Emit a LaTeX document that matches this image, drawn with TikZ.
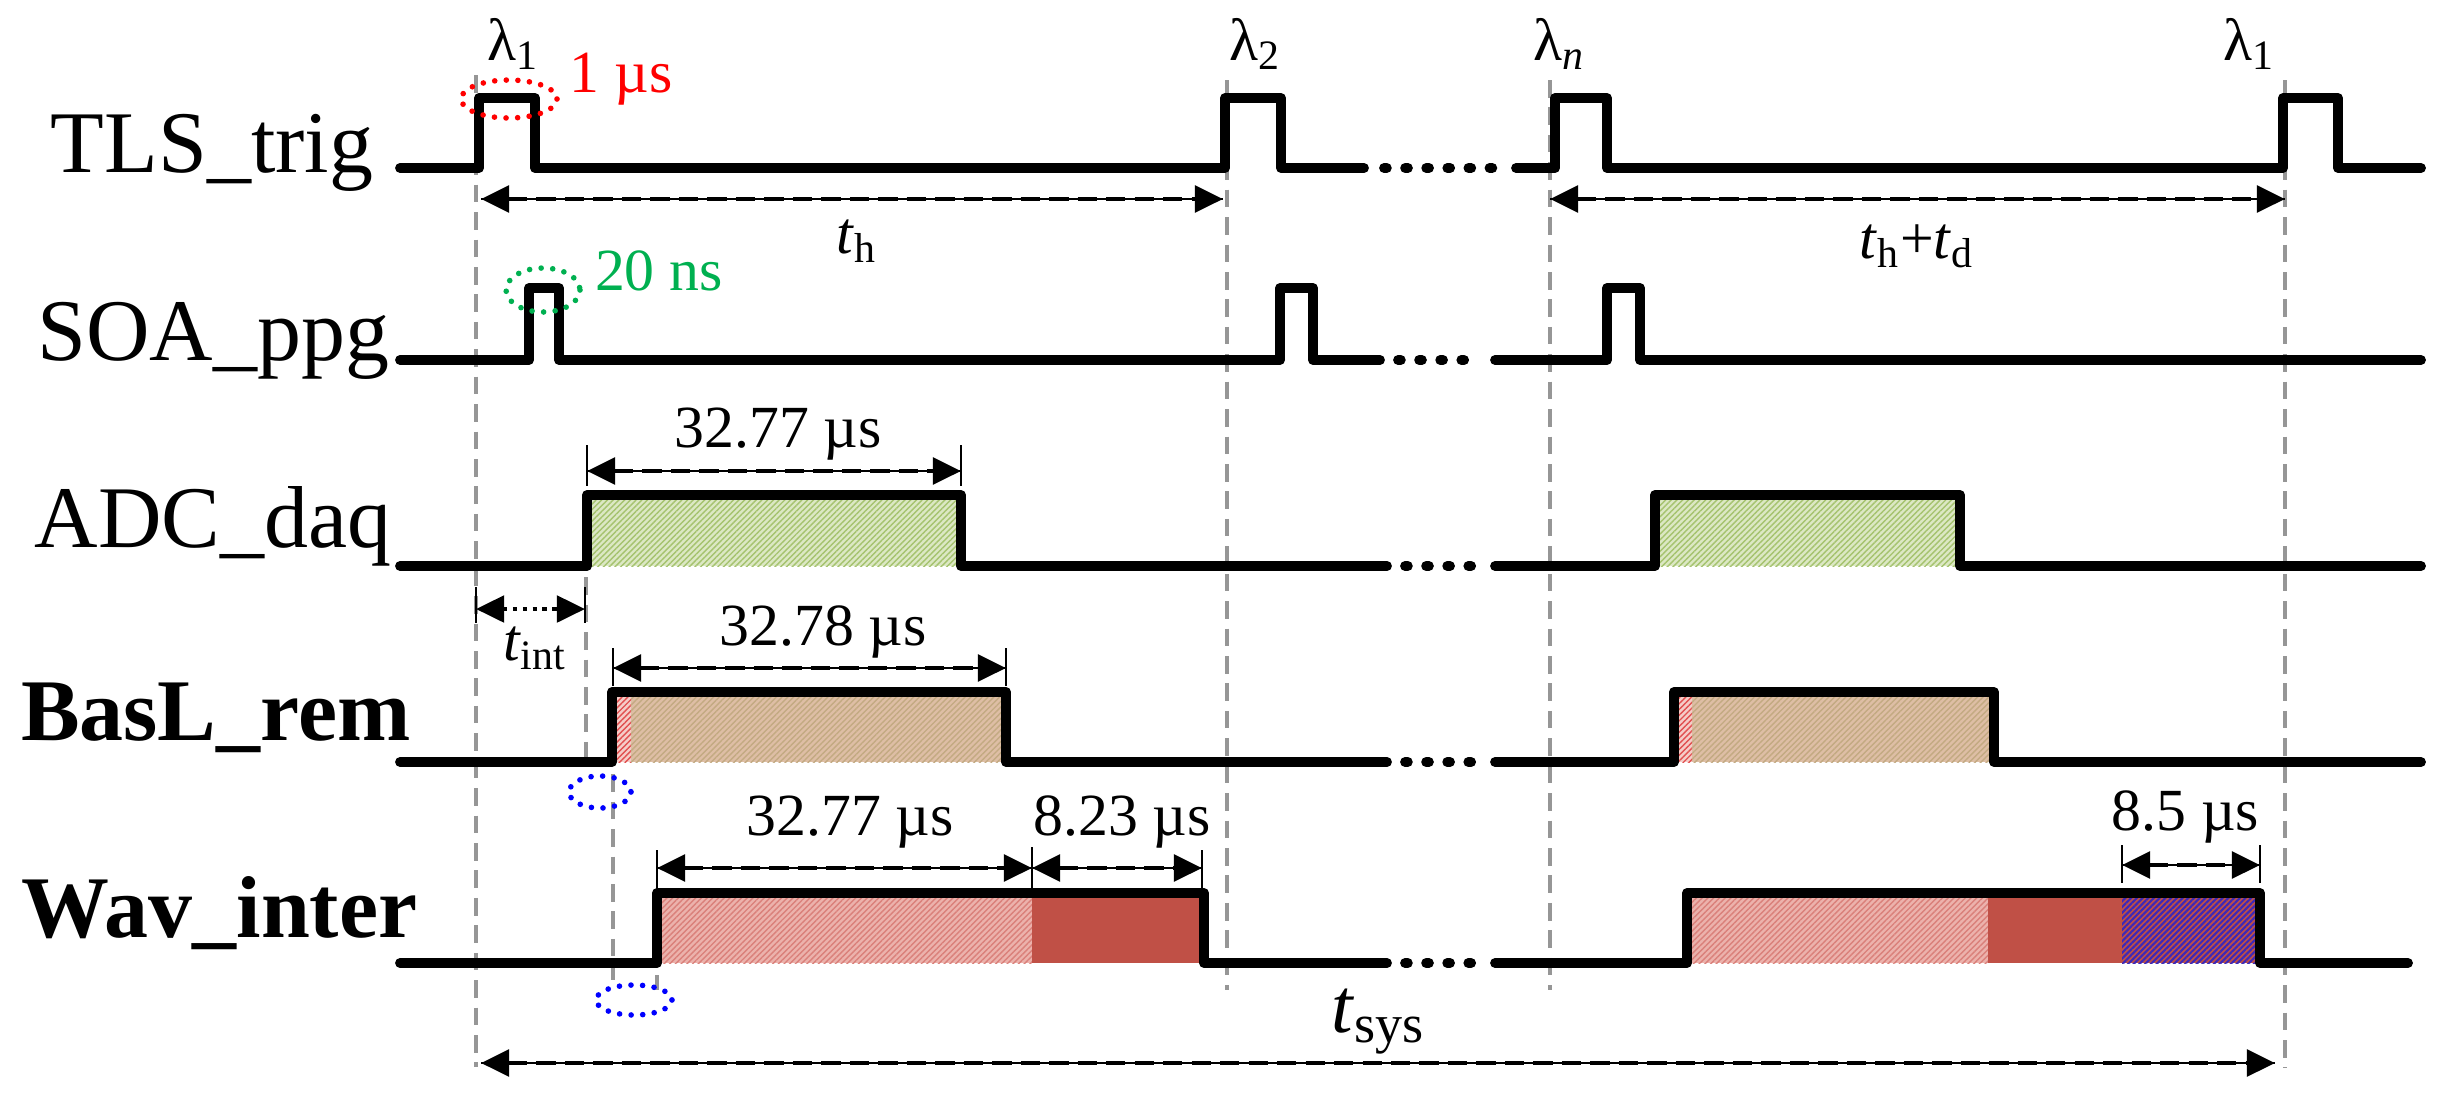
\documentclass[tikz,border=0pt]{standalone}
\usepackage{fontspec}
\setmainfont{Liberation Serif}
\usetikzlibrary{arrows.meta,patterns.meta}
\definecolor{adcbg}{RGB}{220,232,196}
\definecolor{adcln}{RGB}{165,195,110}
\definecolor{basbg}{RGB}{222,190,165}
\definecolor{basln}{RGB}{195,170,130}
\definecolor{stripbg}{RGB}{245,205,200}
\definecolor{stripln}{RGB}{225,80,80}
\definecolor{wavbg}{RGB}{236,178,172}
\definecolor{wavln}{RGB}{218,128,122}
\definecolor{wavred}{RGB}{192,80,70}
\definecolor{purpln}{RGB}{60,40,185}
\definecolor{guidegrey}{RGB}{150,150,150}
\definecolor{ellred}{RGB}{255,0,0}
\definecolor{ellgreen}{RGB}{0,176,80}
\definecolor{ellblue}{RGB}{0,0,255}
\tikzset{
  sig/.style={line width=2.8pt, line join=round, line cap=round},
  dotsig/.style={line width=2.8pt, line cap=round, dash pattern=on 0.8pt off 5.2pt},
  guide/.style={draw=guidegrey, line width=1.05pt, dash pattern=on 5pt off 2.8pt},
  tickln/.style={line width=0.8pt},
  tipboth/.style={arrows={Triangle[length=8pt,width=7.5pt]-Triangle[length=8pt,width=7.5pt]}},
  dimln/.style={line width=1.35pt, dash pattern=on 5.5pt off 2.6pt, tipboth,
     preaction={draw, solid, line width=0.35pt, arrows=-}},
  dotdim/.style={line width=1.2pt, dash pattern=on 1.2pt off 1.6pt, tipboth},
  ell/.style={line width=1.6pt, line cap=round, dash pattern=on 0pt off 3.3pt},
  rowlab/.style={inner sep=0pt, anchor=base east, font=\fontsize{25}{30}\selectfont},
  boldlab/.style={rowlab, font=\fontsize{25}{30}\selectfont\bfseries},
  small/.style={inner sep=0pt, anchor=base, font=\fontsize{17}{20}\selectfont},
  adcfill/.style={preaction={fill=adcbg}, pattern={Lines[angle=45,distance=1.15pt,line width=0.4pt]}, pattern color=adcln},
  basfill/.style={preaction={fill=basbg}, pattern={Lines[angle=45,distance=1.15pt,line width=0.4pt]}, pattern color=basln},
  stripfill/.style={preaction={fill=stripbg}, pattern={Lines[angle=45,distance=1.15pt,line width=0.4pt]}, pattern color=stripln},
  wavfill/.style={preaction={fill=wavbg}, pattern={Lines[angle=45,distance=1.15pt,line width=0.4pt]}, pattern color=wavln},
  purpfill/.style={preaction={fill=wavred}, pattern={Lines[angle=45,distance=1.15pt,line width=0.6pt]}, pattern color=purpln},
}
\begin{document}
\begin{tikzpicture}[x=0.01cm,y=-0.01cm]
\useasboundingbox (0,0) rectangle (2446,1096);

% guide lines
\draw[guide] (476,75) -- (476,1067);
\draw[guide] (1227,80) -- (1227,990);
\draw[guide] (1550,80) -- (1550,990);
\draw[guide] (2285,80) -- (2285,1068);
\draw[guide] (586,495) -- (586,765);
\draw[guide] (613,692) -- (613,980);
\draw[guide] (657,893) -- (657,990);

% fills
\path[adcfill] (587,495) rectangle (961,566);
\path[adcfill] (1655,495) rectangle (1960,566);
\path[stripfill] (612,692) rectangle (631,762);
\path[basfill] (631,692) rectangle (1006,762);
\path[stripfill] (1674,692) rectangle (1692,762);
\path[basfill] (1692,692) rectangle (1994,762);
\path[wavfill] (657,893) rectangle (1032,963);
\fill[wavred] (1032,893) rectangle (1204,963);
\path[wavfill] (1687,893) rectangle (1988,963);
\fill[wavred] (1988,893) rectangle (2122,963);
\path[purpfill] (2122,893) rectangle (2260,963);

% signals
\draw[sig] (400,168) -- (479,168) -- (479,98) -- (535,98) -- (535,168) -- (1225,168) -- (1225,98) -- (1281,98) -- (1281,168) -- (1364,168);
\draw[dotsig] (1384,168) -- (1500,168);
\draw[sig] (1516,168) -- (1555,168) -- (1555,98) -- (1607,98) -- (1607,168) -- (2283,168) -- (2283,98) -- (2338,98) -- (2338,168) -- (2421,168);

\draw[sig] (400,360) -- (529,360) -- (529,288) -- (559,288) -- (559,360) -- (1280,360) -- (1280,288) -- (1313,288) -- (1313,360) -- (1380,360);
\draw[dotsig] (1398,360) -- (1480,360);
\draw[sig] (1495,360) -- (1607,360) -- (1607,288) -- (1640,288) -- (1640,360) -- (2421,360);

\draw[sig] (400,566) -- (587,566) -- (587,495) -- (961,495) -- (961,566) -- (1387,566);
\draw[dotsig] (1405,566) -- (1480,566);
\draw[sig] (1495,566) -- (1655,566) -- (1655,495) -- (1960,495) -- (1960,566) -- (2421,566);

\draw[sig] (400,762) -- (612,762) -- (612,692) -- (1006,692) -- (1006,762) -- (1387,762);
\draw[dotsig] (1405,762) -- (1480,762);
\draw[sig] (1495,762) -- (1674,762) -- (1674,692) -- (1994,692) -- (1994,762) -- (2421,762);

\draw[sig] (400,963) -- (657,963) -- (657,893) -- (1204,893) -- (1204,963) -- (1387,963);
\draw[dotsig] (1405,963) -- (1480,963);
\draw[sig] (1495,963) -- (1687,963) -- (1687,893) -- (2260,893) -- (2260,963) -- (2408,963);

% row labels
\node[rowlab] (tls) at (374,172) {TLS\_trig};
\node[rowlab] (soa) at (390,360) {SOA\_ppg};
\node[rowlab] (adc) at (392,547) {ADC\_daq};
\node[boldlab] (basl) at (411,740) {BasL\_rem};
\node[boldlab] (wav) at (418,937) {Wav\_inter};

% lambda labels
\node[small] (l1) at (513,60) {λ\textsubscript{1}};
\node[small] (l2) at (1255,60) {λ\textsubscript{2}};
\node[small] (ln) at (1559,60) {λ\textsubscript{\textit{n}}};
\node[small] (l1b) at (2249,60) {λ\textsubscript{1}};

% ellipses and annotations
\draw[ell, ellred] (509,99) ellipse [x radius=48, y radius=19];
\node[small, text=ellred] (w1) at (621,92) {1 µs};
\draw[ell, ellgreen] (543,290) ellipse [x radius=37, y radius=22];
\node[small, text=ellgreen] (w2) at (659,290) {20 ns};
\draw[ell, ellblue] (600,792) ellipse [x radius=31, y radius=16];
\draw[ell, ellblue] (634,1000) ellipse [x radius=38, y radius=15];

% dimension coordinates
\coordinate (thA) at (481,199);  \coordinate (thB) at (1223,199);
\coordinate (tdA) at (1550,199); \coordinate (tdB) at (2285,199);
\coordinate (adA) at (587,471);  \coordinate (adB) at (961,471);
\coordinate (tiA) at (476,609);  \coordinate (tiB) at (585,609);
\coordinate (bsA) at (613,668);  \coordinate (bsB) at (1006,668);
\coordinate (wvA) at (657,868);  \coordinate (wvB) at (1032,868);
\coordinate (wvC) at (1202,868);
\coordinate (wpA) at (2122,865); \coordinate (wpB) at (2260,865);
\coordinate (tsA) at (481,1063); \coordinate (tsB) at (2275,1063);

% ticks
\draw[tickln] (587,445) -- (587,486);
\draw[tickln] (961,445) -- (961,486);
\draw[tickln] (476,587) -- (476,623);
\draw[tickln] (585,587) -- (585,623);
\draw[tickln] (613,648) -- (613,686);
\draw[tickln] (1006,648) -- (1006,686);
\draw[tickln] (657,850) -- (657,890);
\draw[tickln] (1032,847) -- (1032,890);
\draw[tickln] (1202,850) -- (1202,892);
\draw[tickln] (2122,845) -- (2122,883);
\draw[tickln] (2260,845) -- (2260,883);

% dimension arrows
\draw[dimln] (thA) -- (thB);
\draw[dimln] (tdA) -- (tdB);
\draw[dimln] (adA) -- (adB);
\draw[dotdim] (tiA) -- (tiB);
\draw[dimln] (bsA) -- (bsB);
\draw[dimln] (wvA) -- (wvB);
\draw[dimln] (wvB) -- (wvC);
\draw[dimln] (wpA) -- (wpB);
\draw[dimln] (tsA) -- (tsB);

% dimension labels
\node[small] (th) at (857,253) {\textit{t}\textsubscript{h}};
\node[small] (thtd) at (1917,258) {\textit{t}\textsubscript{h}+\textit{t}\textsubscript{d}};
\node[small] (adcl) at (778,447) {32.77 µs};
\node[small] (tint) at (535,660) {\textit{t}\textsubscript{int}};
\node[small] (basl2) at (823,645) {32.78 µs};
\node[small] (wv1) at (850,835) {32.77 µs};
\node[small] (wv2) at (1122,835) {8.23 µs};
\node[small] (wv3) at (2185,830) {8.5 µs};
\node[inner sep=0pt, anchor=base, font=\fontsize{22}{26}\selectfont] (tsys) at (1378,1032) {\textit{t}\textsubscript{sys}};
\end{tikzpicture}
\end{document}
